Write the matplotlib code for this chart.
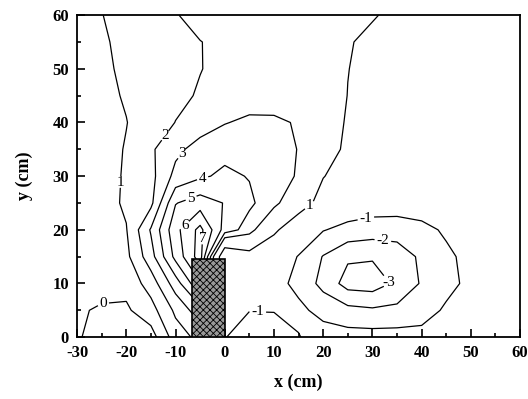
import numpy as np
import matplotlib.pyplot as plt
from matplotlib.patches import Rectangle
from matplotlib.ticker import MultipleLocator

# grid nodes (cm)
x_cm = np.arange(-30, 61, 5)
y_cm = np.arange(0, 61, 5)

# field values at every 5 cm node, one row per y (y = 0 ... 60)
#            -30   -25   -20    -15    -10   -5     0      5      10     15     20     25     30     35     40     45     50    55     60
field_rows = [
    [0.10, -0.40, -0.50, -0.45, 1.50, 2.30, -0.95, -1.60, -1.60, -1.05, -0.50, -0.60, -0.60, -0.60, -0.65, -0.50, -0.40, -0.35, -0.30],
    [0.10, -0.10, -0.15, 0.60, 2.20, 3.60, -0.90, -0.97, -0.95, -0.75, -1.35, -1.70, -1.85, -1.75, -1.45, -0.85, -0.55, -0.40, -0.30],
    [0.30, 0.30, 0.30, 1.45, 3.50, 5.90, -0.60, -0.40, -0.60, -1.30, -2.30, -3.40, -3.50, -2.80, -1.90, -1.30, -0.75, -0.50, -0.35],
    [0.20, 0.40, 0.75, 2.60, 5.30, 7.50, -0.80, 0.30, -0.30, -1.05, -2.05, -2.85, -2.90, -2.60, -1.80, -1.20, -0.70, -0.45, -0.30],
    [0.25, 0.50, 0.95, 3.10, 5.70, 7.30, 4.60, 3.50, 1.30, -0.20, -0.95, -1.30, -1.50, -1.50, -1.30, -0.85, -0.50, -0.30, -0.20],
    [0.30, 0.60, 1.15, 1.75, 4.95, 5.50, 4.95, 4.20, 3.35, 1.80, 0.40, -0.30, -0.45, -0.50, -0.40, -0.20, 0.00, 0.10, 0.15],
    [0.35, 0.65, 1.10, 1.70, 3.30, 3.85, 4.20, 3.95, 3.70, 2.85, 1.05, 0.40, 0.10, 0.00, 0.05, 0.15, 0.20, 0.25, 0.25],
    [0.40, 0.70, 1.05, 1.85, 2.75, 3.40, 3.70, 3.80, 3.60, 2.95, 1.70, 0.70, 0.45, 0.35, 0.30, 0.30, 0.30, 0.30, 0.30],
    [0.45, 0.75, 0.98, 1.40, 2.02, 2.50, 2.95, 3.20, 3.20, 2.90, 1.80, 0.85, 0.60, 0.45, 0.35, 0.30, 0.30, 0.30, 0.30],
    [0.50, 0.80, 1.07, 1.40, 1.75, 2.10, 2.40, 2.50, 2.45, 2.30, 1.70, 0.98, 0.65, 0.50, 0.35, 0.30, 0.30, 0.30, 0.30],
    [0.55, 0.85, 1.15, 1.45, 1.70, 1.97, 2.25, 2.30, 2.20, 2.10, 1.60, 1.02, 0.70, 0.55, 0.40, 0.35, 0.30, 0.30, 0.30],
    [0.60, 0.90, 1.20, 1.50, 1.75, 1.98, 2.20, 2.20, 2.10, 2.05, 1.70, 1.10, 0.70, 0.60, 0.45, 0.35, 0.30, 0.30, 0.30],
    [0.70, 0.98, 1.30, 1.60, 1.95, 2.30, 2.40, 2.30, 2.20, 2.05, 1.80, 1.50, 1.10, 0.70, 0.50, 0.40, 0.30, 0.30, 0.30],
]

main_levels = [-3, -2, -1, 1, 3, 4, 5, 6, 7]

# obstacle block
block_left, block_right, block_top = -6.7, 0.0, 14.5

plt.rcParams['font.family'] = ['Liberation Serif', 'DejaVu Serif']
plt.rcParams['axes.unicode_minus'] = False
plt.rcParams['contour.negative_linestyle'] = 'solid'
plt.rcParams['hatch.linewidth'] = 0.6

Z = np.array(field_rows)
X, Y = np.meshgrid(x_cm, y_cm)

fig = plt.figure(figsize=(5.28, 3.99), dpi=100)
ax = fig.add_axes([0.146, 0.155, 0.839, 0.807])

line_kw = dict(colors='k', linewidths=0.9)
cs = ax.contour(X, Y, Z, levels=main_levels, **line_kw)
# the 0 and 2 lines are only drawn where the original shows them
z0 = np.ma.masked_where((X > -10) | (Y > 10), Z)
cs0 = ax.contour(X, Y, z0, levels=[0], **line_kw)
z2 = np.ma.masked_where((X >= 5) | ((X >= 0) & (Y <= 20)), Z)
cs2 = ax.contour(X, Y, z2, levels=[2], **line_kw)

fmt = lambda v: f'{v:g}'
lab_kw = dict(inline=True, fontsize=11, fmt=fmt, inline_spacing=2)
texts = []
texts += ax.clabel(cs, manual=[(-20.9, 28.9), (-8.8, 34.2), (-4.4, 29.2), (-6.4, 24.8),
                               (-8.6, 21.3), (-5.2, 18.4), (17.7, 24.0), (6.7, 4.7),
                               (28.8, 21.5), (32.1, 17.8), (34.3, 10.9)], **lab_kw)
texts += ax.clabel(cs0, manual=[(-24.7, 6.3)], **lab_kw)
texts += ax.clabel(cs2, manual=[(-11.7, 37.3)], **lab_kw)
for t in texts:
    t.set_rotation(0)

ax.add_patch(Rectangle((block_left, 0), block_right - block_left, block_top,
                       facecolor='#999999', edgecolor='k', hatch='xxxxx',
                       linewidth=1.2, zorder=3))

ax.set_xlim(-30, 60)
ax.set_ylim(0, 60)
ax.xaxis.set_major_locator(MultipleLocator(10))
ax.xaxis.set_minor_locator(MultipleLocator(5))
ax.yaxis.set_major_locator(MultipleLocator(10))
ax.yaxis.set_minor_locator(MultipleLocator(5))
ax.tick_params(which='both', direction='in', top=False, right=False, width=1.2)
ax.tick_params(which='major', length=6, labelsize=12)
ax.tick_params(axis='x', which='major', pad=6)
ax.tick_params(axis='y', which='major', pad=6)
ax.tick_params(which='minor', length=3)
for lab in ax.get_xticklabels() + ax.get_yticklabels():
    lab.set_fontweight('bold')
for sp in ax.spines.values():
    sp.set_linewidth(1.3)

ax.set_xlabel('x (cm)', fontsize=13, fontweight='bold', labelpad=9)
ax.set_ylabel('y (cm)', fontsize=13, fontweight='bold', labelpad=14)

fig.savefig('out.png', dpi=100)
